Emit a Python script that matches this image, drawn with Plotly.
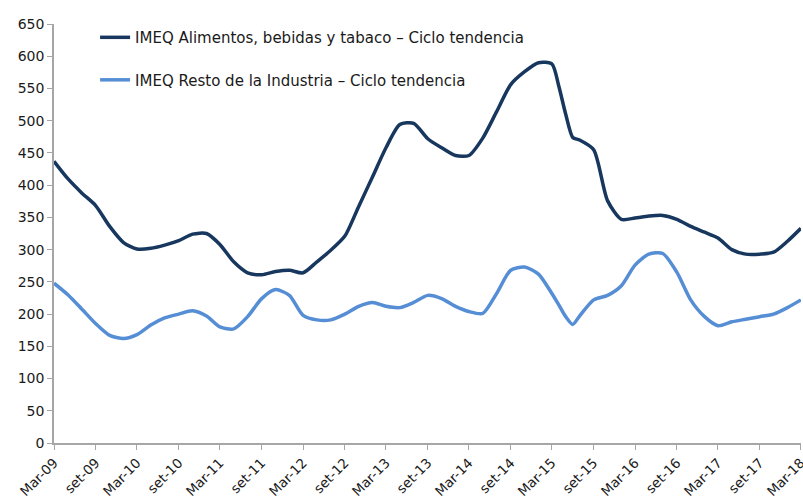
import plotly.graph_objects as go
import pandas as pd

# months since Mar-2009 at which values were read
months = [0, 2, 4, 6, 8, 10, 12, 14, 16, 18, 20, 22, 24, 26, 28, 30, 32, 34, 36, 38,
          40, 42, 44, 46, 48, 50, 52, 54, 56, 58, 60, 62, 64, 66, 68, 70, 72, 73, 74, 75,
          76, 78, 80, 82, 84, 86, 88, 90, 92, 94, 96, 98, 100, 102, 104, 106, 108]

alimentos = [437, 410, 388, 368, 336, 311, 301, 302, 307, 314, 324, 325, 308, 281, 264, 261, 266, 268, 264, 281,
             299, 321, 367, 413, 458, 494, 496, 472, 458, 446, 446, 473, 514, 556, 576, 590, 588, 553, 510, 474,
             470, 455, 376, 347, 349, 352, 353, 347, 336, 327, 318, 300, 293, 293, 296, 313, 333]

resto = [248, 230, 208, 185, 167, 162, 168, 183, 194, 200, 205, 197, 180, 177, 196, 224, 238, 229, 198, 191,
         191, 200, 212, 218, 212, 210, 218, 229, 224, 212, 204, 201, 232, 268, 273, 262, 232, 214, 196, 184,
         197, 222, 229, 244, 276, 293, 294, 265, 222, 196, 182, 188, 192, 196, 200, 210, 222]

tick_labels = ["Mar-09", "set-09", "Mar-10", "set-10", "Mar-11", "set-11", "Mar-12", "set-12",
               "Mar-13", "set-13", "Mar-14", "set-14", "Mar-15", "set-15", "Mar-16", "set-16",
               "Mar-17", "set-17", "Mar-18"]

start = pd.Timestamp("2009-03-01")
dates = [start + pd.DateOffset(months=m) for m in months]
tick_vals = [start + pd.DateOffset(months=6 * i) for i in range(len(tick_labels))]
end = tick_vals[-1] + pd.Timedelta(hours=12)

name1 = "IMEQ Alimentos, bebidas y tabaco – Ciclo tendencia"
name2 = "IMEQ Resto de la Industria – Ciclo tendencia"

fig = go.Figure()
fig.add_trace(go.Scatter(x=dates, y=alimentos, mode="lines", name=name1, legendgroup="a",
                         line=dict(color="#17375E", width=3.5, shape="spline", smoothing=0.7)))
fig.add_trace(go.Scatter(x=dates, y=resto, mode="lines", name=name2, legendgroup="b",
                         line=dict(color="#558ED5", width=3.5, shape="spline", smoothing=0.7)))

axis_font = dict(family="DejaVu Sans", size=14, color="#1a1a1a")
xtick_font = dict(family="DejaVu Sans", size=13.5, color="#1a1a1a")

fig.update_layout(
    width=803, height=502,
    margin=dict(l=54, r=2, t=24, b=59, autoexpand=False),
    paper_bgcolor="white", plot_bgcolor="white",
    font=axis_font,
    showlegend=True,
    legend=dict(x=0.055, y=1.007, xanchor="left", yanchor="top", bgcolor="rgba(0,0,0,0)",
                font=dict(family="DejaVu Sans", size=15, color="#1a1a1a"),
                tracegroupgap=20, itemwidth=30),
    xaxis=dict(type="date", range=[start, end], tickvals=tick_vals, ticktext=tick_labels,
               tickangle=-45, automargin=False, ticklabeloverflow="allow", showgrid=False,
               zeroline=False, showline=True,
               linecolor="#a6a6a6", linewidth=1.5, ticks="outside", ticklen=5, tickcolor="#a6a6a6",
               tickfont=xtick_font),
    yaxis=dict(range=[0, 650], dtick=50, automargin=False, showgrid=False, zeroline=False, showline=True,
               linecolor="#a6a6a6", linewidth=1.5, ticks="outside", ticklen=5, tickcolor="#a6a6a6",
               tickfont=axis_font),
)

fig.write_html("out.html", config={"displayModeBar": False},
               post_script="document.body.style.margin='0';document.body.style.overflow='hidden';")
